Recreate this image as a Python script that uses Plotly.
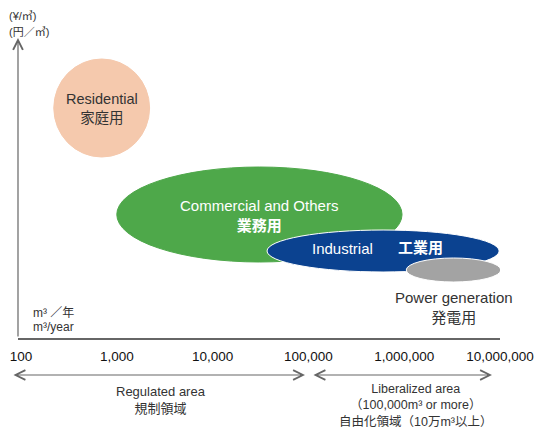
import numpy as np
import plotly.graph_objects as go

# ---- data (m3/year on x, relative unit price on y) ----
categories = ["Residential", "Commercial and Others", "Industrial", "Power generation"]
labels_jp = ["家庭用", "業務用", "工業用", "発電用"]
vol_min = [220, 1000, 37000, 1050000]
vol_max = [2200, 950000, 9800000, 10200000]
price_min = [181, 76, 66, 56]
price_max = [279, 171, 108, 80]
colors = ["#f5c9ad", "#4ea84a", "#0b4290", "#a3a3a3"]
outline = ["#f5c9ad", "#4ea84a", "#ffffff", "#ffffff"]

tick_vals = [100, 1000, 10000, 100000, 1000000, 10000000]
tick_text = ["100", "1,000", "10,000", "100,000", "1,000,000", "10,000,000"]

FONT = "Liberation Sans, Arial, Noto Sans CJK JP, sans-serif"

fig = go.Figure()
# invisible trace to create axes
fig.add_trace(go.Scatter(x=[100, 10000000], y=[0, 0], mode="markers",
                         marker=dict(opacity=0), hoverinfo="skip", showlegend=False))

for i in range(len(categories)):
    fig.add_shape(type="circle", xref="x", yref="y",
                  x0=vol_min[i], x1=vol_max[i], y0=price_min[i], y1=price_max[i],
                  fillcolor=colors[i], line=dict(color=outline[i], width=1),
                  layer="above")

def cx(i):
    return (np.log10(vol_min[i]) + np.log10(vol_max[i])) / 2

def cy(i):
    return (price_min[i] + price_max[i]) / 2

def ann(**kw):
    kw.setdefault("showarrow", False)
    kw.setdefault("xanchor", "center")
    kw.setdefault("yanchor", "middle")
    fig.add_annotation(**kw)

# labels
ann(x=cx(0), y=cy(0), xref="x", yref="y",
    text=f"{categories[0]}<br>{labels_jp[0]}",
    font=dict(size=14.5, color="#333333", family=FONT))
ann(x=cx(1), y=cy(1) - 1, xref="x", yref="y",
    text=f"{categories[1]}<br><b>{labels_jp[1]}</b>",
    font=dict(size=15, color="#ffffff", family=FONT))
ann(x=5.36, y=90, xref="x", yref="y", text=categories[2],
    font=dict(size=15, color="#ffffff", family=FONT))
ann(x=6.17, y=91, xref="x", yref="y", text=f"<b>{labels_jp[2]}</b>",
    font=dict(size=15, color="#ffffff", family=FONT))
ann(x=cx(3), y=31, xref="x", yref="y",
    text=f"{categories[3]}<br>{labels_jp[3]}",
    font=dict(size=15, color="#333333", family=FONT))

# axis unit labels
ann(x=2.10, y=25, xref="x", yref="y", xanchor="left",
    text="m³ ／年", font=dict(size=12, color="#333333", family=FONT))
ann(x=2.10, y=11, xref="x", yref="y", xanchor="left",
    text="m³/year", font=dict(size=12, color="#333333", family=FONT))
ann(x=-0.022, y=(338 - 16) / 300, xref="paper", yref="paper", xanchor="left",
    text="(¥/㎥)", font=dict(size=11, color="#333333", family=FONT))
ann(x=-0.022, y=(338 - 32) / 300, xref="paper", yref="paper", xanchor="left",
    text="(円／㎥)", font=dict(size=11, color="#333333", family=FONT))

# y-axis arrow
fig.add_annotation(x=0, y=1.0, xref="paper", yref="paper", ax=0, ay=300,
                   showarrow=True, arrowhead=5, arrowsize=1.6, arrowwidth=1.2,
                   arrowcolor="#666666", text="")

# bottom range arrows
fig.add_annotation(x=(305 - 18) / 482, y=(338 - 375) / 300, xref="paper", yref="paper",
                   ax=-293, ay=0, showarrow=True, arrowhead=5, arrowside="end+start",
                   arrowsize=1.6, arrowwidth=1.2, arrowcolor="#666666", text="")
fig.add_annotation(x=(492 - 18) / 482, y=(338 - 375) / 300, xref="paper", yref="paper",
                   ax=-180, ay=0, showarrow=True, arrowhead=5, arrowside="end+start",
                   arrowsize=1.6, arrowwidth=1.2, arrowcolor="#666666", text="")

ann(x=(161 - 18) / 482, y=(338 - 400) / 300, xref="paper", yref="paper",
    text="Regulated area<br>規制領域",
    font=dict(size=13, color="#333333", family=FONT))
ann(x=(415 - 18) / 482, y=(338 - 405) / 300, xref="paper", yref="paper",
    text="Liberalized area<br>（100,000m³ or more）<br>自由化領域（10万m³以上）",
    font=dict(size=12.5, color="#333333", family=FONT))

fig.update_layout(
    width=535, height=430,
    margin=dict(l=18, r=35, t=38, b=92, autoexpand=False),
    paper_bgcolor="white", plot_bgcolor="white",
    showlegend=False,
    xaxis=dict(type="log", range=[1.969, 7.0], tickvals=tick_vals, ticktext=tick_text,
               showgrid=False, zeroline=False, showline=True, linecolor="#666666",
               linewidth=1.5, ticks="", ticklabelstandoff=5, automargin=False,
               ticklabeloverflow="allow",
               tickfont=dict(size=13.5, color="#111111", family=FONT)),
    yaxis=dict(range=[0, 300], showgrid=False, zeroline=False, showline=False,
               showticklabels=False, ticks="", automargin=False),
)

fig.write_html("out.html", config={"displayModeBar": False},
               post_script="document.body.style.margin='0';document.body.style.overflow='hidden';")
